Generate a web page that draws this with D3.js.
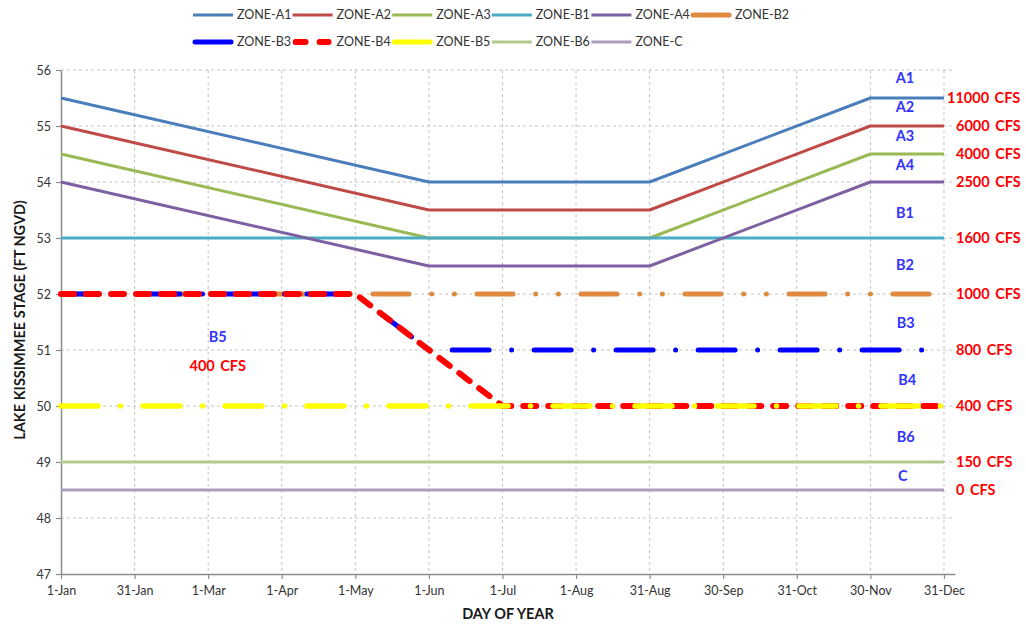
<!DOCTYPE html>
<html lang="en">
<head>
<meta charset="UTF-8">
<title>Lake Kissimmee Stage Zones</title>
<script src="https://d3js.org/d3.v7.min.js"></script>
<style>
    body { margin: 0; background: #fff; }
    text { font-family: Lato, "Liberation Sans", sans-serif; }
    .tick text { font-size: 12.5px; fill: #333; }
    .legend text { font-size: 12.5px; fill: #333; }
    .grid line { stroke: #c4c4c4; stroke-dasharray: 3,3; stroke-width: 1; }
</style>
</head>
<body>
<div id="chart"></div>
<script>
// x positions are indices into the tick labels (1-Jan = 0 ... 31-Dec = 12)
const tickLabels = ["1-Jan", "31-Jan", "1-Mar", "1-Apr", "1-May", "1-Jun", "1-Jul",
                    "1-Aug", "31-Aug", "30-Sep", "31-Oct", "30-Nov", "31-Dec"];
const stageTicks = [47, 48, 49, 50, 51, 52, 53, 54, 55, 56];

// zone lines: [tick index, stage ft]
const zoneA1 = [[0, 55.5], [5, 54], [8, 54], [11, 55.5], [12, 55.5]];
const zoneA2 = [[0, 55], [5, 53.5], [8, 53.5], [11, 55], [12, 55]];
const zoneA3 = [[0, 54.5], [5, 53], [8, 53], [11, 54.5], [12, 54.5]];
const zoneB1 = [[0, 53], [12, 53]];
const zoneA4 = [[0, 54], [5, 52.5], [8, 52.5], [11, 54], [12, 54]];
const zoneB2 = [[0, 52], [12, 52]];
const zoneB3 = [[0, 52], [4, 52], [5, 51], [12, 51]];
const zoneB4 = [[0, 52], [4, 52], [6, 50], [12, 50]];
const zoneB5 = [[0, 50], [12, 50]];
const zoneB6 = [[0, 49], [12, 49]];
const zoneC  = [[0, 48.5], [12, 48.5]];

const seriesNames = ["ZONE-A1", "ZONE-A2", "ZONE-A3", "ZONE-B1", "ZONE-A4", "ZONE-B2",
                     "ZONE-B3", "ZONE-B4", "ZONE-B5", "ZONE-B6", "ZONE-C"];
const seriesData = [zoneA1, zoneA2, zoneA3, zoneB1, zoneA4, zoneB2,
                    zoneB3, zoneB4, zoneB5, zoneB6, zoneC];

// flow release labels on the right edge
const flowStages = [55.5, 55, 54.5, 54, 53, 52, 51, 50, 49, 48.5];
const flowLabels = ["11000 CFS", "6000 CFS", "4000 CFS", "2500 CFS", "1600 CFS",
                    "1000 CFS", "800 CFS", "400 CFS", "150 CFS", "0 CFS"];

// zone names inside the plot: [tick index, stage]
const zoneLabels = ["A1", "A2", "A3", "A4", "B1", "B2", "B3", "B4", "B6", "C", "B5"];
const zoneLabelPos = [[11.47, 55.86], [11.47, 55.34], [11.47, 54.82], [11.47, 54.3],
                      [11.47, 53.45], [11.47, 52.52], [11.48, 51.48], [11.5, 50.46],
                      [11.48, 49.45], [11.44, 48.75], [2.13, 51.24]];

const W = 1026, H = 624;
const margin = { left: 61, right: 955, top: 70, bottom: 574 };

const svg = d3.select("#chart").append("svg")
    .attr("width", W).attr("height", H);

const x = d3.scaleLinear().domain([0, 12.15]).range([margin.left, margin.right]);
const y = d3.scaleLinear().domain([47, 56]).range([margin.bottom, margin.top]);

// gridlines
const grid = svg.append("g").attr("class", "grid");
grid.selectAll("line.h").data(stageTicks.slice(1)).enter().append("line")
    .attr("x1", margin.left).attr("x2", margin.right)
    .attr("y1", d => y(d)).attr("y2", d => y(d));
grid.selectAll("line.v").data(d3.range(1, 13)).enter().append("line")
    .attr("x1", d => x(d)).attr("x2", d => x(d))
    .attr("y1", margin.top).attr("y2", margin.bottom);

// axes
const xAxis = svg.append("g")
    .attr("transform", `translate(0,${margin.bottom})`)
    .call(d3.axisBottom(x).tickValues(d3.range(13))
        .tickFormat(i => tickLabels[i]).tickSize(5).tickPadding(7).tickSizeOuter(0));
const yAxis = svg.append("g")
    .attr("transform", `translate(${margin.left},0)`)
    .call(d3.axisLeft(y).tickValues(stageTicks).tickFormat(d3.format("d"))
        .tickSize(5).tickPadding(5).tickSizeOuter(0));
[xAxis, yAxis].forEach(a => {
    a.select(".domain").attr("stroke", "#8c8c8c").attr("stroke-width", 1.5);
    a.selectAll(".tick line").attr("stroke", "#8c8c8c").attr("stroke-width", 1.2);
});

// line styles per series
const styles = {
    "ZONE-A1": { color: "#4a7ebb", width: 3 },
    "ZONE-A2": { color: "#be4b48", width: 3 },
    "ZONE-A3": { color: "#98b954", width: 3 },
    "ZONE-B1": { color: "#4bacc6", width: 3 },
    "ZONE-A4": { color: "#7d60a0", width: 3 },
    "ZONE-B2": { color: "#e08a40", width: 5, dash: "36,22.7,0,22.7,0,22.6" },
    "ZONE-B3": { color: "#0000ff", width: 5, dash: "37,22.5,0,22.5" },
    "ZONE-B4": { color: "#ff0000", width: 6, dash: "13,12" },
    "ZONE-B5": { color: "#ffff00", width: 5.5, dash: "37,22.5,0,22.5" },
    "ZONE-B6": { color: "#b2c98f", width: 3 },
    "ZONE-C":  { color: "#aa9dc0", width: 3 }
};

const line = d3.line().x(d => x(d[0])).y(d => y(d[1]));

svg.append("g").selectAll("path")
    .data(seriesData)
    .enter().append("path")
    .attr("d", line)
    .attr("fill", "none")
    .attr("stroke", (d, i) => styles[seriesNames[i]].color)
    .attr("stroke-width", (d, i) => styles[seriesNames[i]].width)
    .attr("stroke-dasharray", (d, i) => styles[seriesNames[i]].dash || null)
    .attr("stroke-linecap", (d, i) => styles[seriesNames[i]].dash ? "round" : "butt")
    .attr("stroke-linejoin", "round");

// right-hand flow labels
svg.append("g").selectAll("text")
    .data(flowLabels).enter().append("text")
    .attr("x", d => d.length > 8 ? margin.right - 8 : margin.right + 1)
    .attr("y", (d, i) => y(flowStages[i]))
    .attr("dy", "0.35em")
    .style("font-size", "14.5px").style("font-weight", "bold")
    .style("word-spacing", "2px")
    .attr("fill", "#ff0000")
    .text(d => d);

// zone names
svg.append("g").selectAll("text")
    .data(zoneLabels).enter().append("text")
    .attr("x", (d, i) => x(zoneLabelPos[i][0]))
    .attr("y", (d, i) => y(zoneLabelPos[i][1]))
    .attr("dy", "0.35em")
    .attr("text-anchor", "middle")
    .style("font-size", "14.5px").style("font-weight", "bold")
    .attr("fill", "#3333ff")
    .text(d => d);

svg.append("text")
    .attr("x", x(2.13)).attr("y", y(50.72)).attr("dy", "0.35em")
    .attr("text-anchor", "middle")
    .style("font-size", "14.5px").style("font-weight", "bold")
    .style("word-spacing", "2px")
    .attr("fill", "#ff0000")
    .text("400 CFS");

// axis titles
svg.append("text")
    .attr("transform", "translate(20,320) rotate(-90)")
    .attr("text-anchor", "middle").attr("dy", "0.35em")
    .style("font-size", "14.5px").style("font-weight", "bold").attr("fill", "#1a1a1a")
    .text("LAKE KISSIMMEE STAGE (FT NGVD)");
svg.append("text")
    .attr("x", 508).attr("y", 614).attr("dy", "0.35em")
    .attr("text-anchor", "middle")
    .style("font-size", "14.5px").style("font-weight", "bold").attr("fill", "#1a1a1a")
    .text("DAY OF YEAR");

// legend: two rows
const legend = svg.append("g").attr("class", "legend");
seriesNames.forEach((name, i) => {
    const row = i < 6 ? 0 : 1;
    const col = row === 0 ? i : i - 6;
    const lx = 193 + col * 99.6, ly = row === 0 ? 15 : 42;
    const s = styles[name];
    const g = legend.append("g").attr("transform", `translate(${lx},${ly})`);
    if (name === "ZONE-B4") {
        g.append("line").attr("x1", 3).attr("x2", 36)
            .attr("stroke", s.color).attr("stroke-width", 6)
            .attr("stroke-linecap", "round").attr("stroke-dasharray", "10,14");
    } else {
        g.append("line").attr("x1", s.dash ? 2 : 0).attr("x2", s.dash ? 38 : 40)
            .attr("stroke", s.color).attr("stroke-width", s.dash ? 5 : 3)
            .attr("stroke-linecap", s.dash ? "round" : "butt");
    }
    g.append("text").attr("x", 44).attr("dy", "0.35em").text(name);
});
</script>
</body>
</html>
